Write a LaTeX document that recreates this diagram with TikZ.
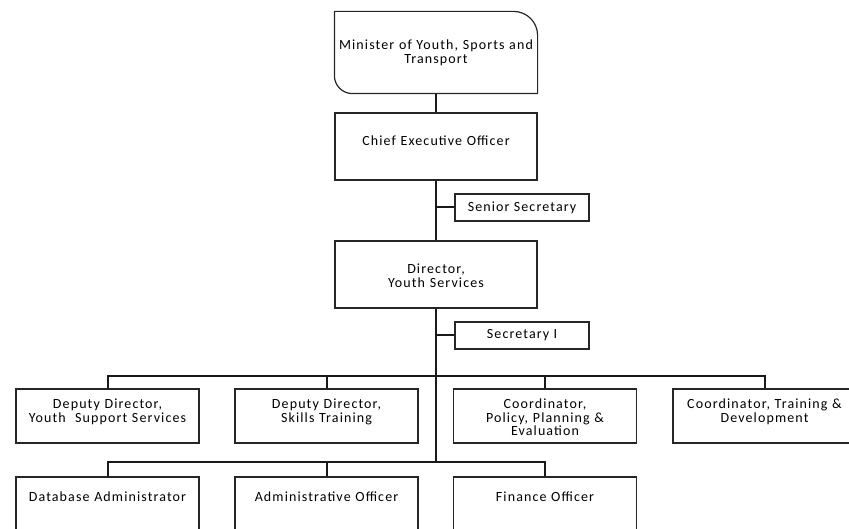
\documentclass[tikz,border=0pt]{standalone}
\usepackage{fontspec}
\setmainfont{Carlito}[LetterSpace=8]
\tikzset{
	post/.style={draw=black!85, line width=1.2pt, inner xsep=0pt, inner ysep=10pt, align=center, text=black, font=\fontsize{14}{14}\selectfont},
	head/.style={post, text width=202, text height=23, text depth=24},
	unit/.style={post, text width=183, text height=9, text depth=25},
	lowunit/.style={post, text width=183, text height=14, text depth=20},
	secr/.style={post, minimum width=134, minimum height=27, inner sep=0pt},
	trunk/.style={black!90, line width=2pt}
}
\begin{document}
\begin{tikzpicture}[x=1pt,y=1pt]
\useasboundingbox (0,0) rectangle (849,-529);
\clip (0,0) rectangle (849,-529);

%top of the chart
\node[head, draw=none, text height=28, text depth=33] (mys) at (436,-52.5) {Minister of Youth, Sports and\\Transport};
\draw[draw=black!85, line width=1.2pt] (mys.north west) -- ([xshift=-24]mys.north east) arc[start angle=90, end angle=0, radius=24] -- (mys.south east) -- ([xshift=18]mys.south west) arc[start angle=270, end angle=180, radius=18] -- cycle;
\node[head] (ceo) at (436,-146.5) {Chief Executive Officer};
\node[head] (dir) at (436,-274.5) {Director,\\Youth Services};
\node[secr] (ss) at (522,-207.5) {Senior Secretary};
\node[secr] (sec) at (522,-335.5) {Secretary I};

%first row
\node[unit] (dys) at (107.5,-416) {Deputy Director,\\Youth\ \ Support Services};
\node[unit] (dst) at (326.5,-416) {Deputy Director,\\Skills Training};
\node[unit] (cpp) at (545,-416) {Coordinator,\\Policy, Planning \&\\Evaluation};
\node[unit] (ctd) at (764.5,-416) {Coordinator, Training \&\\Development};

%second row
\node[lowunit] (dba) at (107.5,-504) {Database Administrator};
\node[lowunit] (ado) at (326.5,-504) {Administrative Officer};
\node[lowunit] (fin) at (545,-504) {Finance Officer};

\coordinate (topbus) at (436,-376);
\coordinate (lowbus) at (436,-462);

\draw[trunk] (mys) -- (ceo);
\draw[trunk] (ceo) -- (dir);
\draw[trunk] (dir.south) -- (lowbus);
\draw[trunk] (ceo.south |- ss) -- (ss.west);
\draw[trunk] (dir.south |- sec) -- (sec.west);

\draw[trunk] (dys.north) |- (topbus) -| (ctd.north);
\draw[trunk] (dst.north) -- (dst.north |- topbus);
\draw[trunk] (cpp.north) -- (cpp.north |- topbus);

\draw[trunk] (dba.north) |- (lowbus) -| (fin.north);
\draw[trunk] (ado.north) -- (ado.north |- lowbus);
\end{tikzpicture}
\end{document}
